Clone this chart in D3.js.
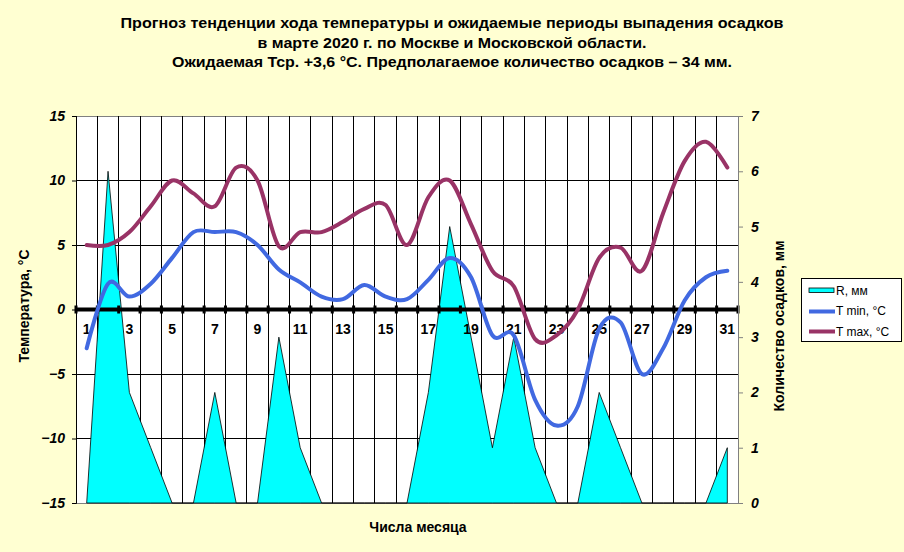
<!DOCTYPE html>
<html><head><meta charset="utf-8">
<script src="https://cdn.jsdelivr.net/npm/d3@7"></script>
<style>
html,body{margin:0;padding:0;background:#ffffd2;}
svg{display:block;}
text{font-family:"Liberation Sans",Arial,sans-serif;}
</style></head>
<body>
<svg id="c" width="904" height="552"></svg>
<script>
const days = ["1","2","3","4","5","6","7","8","9","10","11","12","13","14","15","16","17","18","19","20","21","22","23","24","25","26","27","28","29","30","31"];
const rain = [0,6,2,1,0,0,2,0,0,3,1,0,0,0,0,0,2,5,3,1,3,1,0,0,2,1,0,0,0,0,1];
const tmin = [-3,2,1,2,4,6,6,6,5,3.1,2.1,1,0.8,1.9,1,0.8,2.3,4,2.5,-2,-2,-7,-9,-7.5,-1.5,-1,-5,-3,0.7,2.5,3];
const tmax = [5,5,6,8,10,9,8,11,10,4.9,6,6,6.8,7.8,8.1,5,8.7,10,6.6,3,1.8,-2.3,-2,0,4,4.8,3,7.5,11.5,13,11];
const tempTicks = [15,10,5,0,-5,-10,-15];
const rainTicks = [0,1,2,3,4,5,6,7];
const xLabels = ["1","3","5","7","9","11","13","15","17","19","21","23","25","27","29","31"];
const titleLines = ["Прогноз тенденции хода температуры и ожидаемые периоды выпадения осадков",
  "в марте 2020 г. по Москве и Московской области.",
  "Ожидаемая Тср. +3,6 °С. Предполагаемое количество осадков – 34 мм."];
const legendItems = ["R, мм","T min, °C","T max, °C"];

const svg = d3.select("#c");
const L = 76, R = 738, T = 116, B = 503;
const x = d3.scaleBand().domain(days).range([L, R]).padding(0);
const bw = x.bandwidth();
const cx = d => x(d) + bw/2;
const yT = d3.scaleLinear().domain([-15,15]).range([B,T]);
const yR = d3.scaleLinear().domain([0,7]).range([B,T]);

svg.append("rect").attr("width",904).attr("height",552).attr("fill","#ffffd2");
svg.append("rect").attr("x",L).attr("y",T).attr("width",R-L).attr("height",B-T).attr("fill","#fff");

// title
const tw = [663,389,560];
const ty = [28,48,67];
titleLines.forEach((t,i)=>{
  svg.append("text").attr("x",452).attr("y",ty[i]).attr("text-anchor","middle")
    .style("font-family",'"Liberation Sans Narrow","Arial Narrow","Liberation Sans",Arial,sans-serif')
    .attr("font-weight","bold").attr("font-size",15.5)
    .attr("textLength",tw[i]).attr("lengthAdjust","spacingAndGlyphs").text(t);
});

// horizontal grid
svg.append("g").selectAll("line").data(tempTicks.filter(v=>v!==0)).join("line")
  .attr("x1",L).attr("x2",R).attr("y1",d=>yT(d)).attr("y2",d=>yT(d))
  .attr("stroke",d=>(d===15||d===-15)?"#808080":"#000").attr("stroke-width",1).attr("shape-rendering","crispEdges");
// vertical grid
const edges = days.map(d=>x(d)).concat([R]);
svg.append("g").selectAll("line").data(edges).join("line")
  .attr("x1",d=>d).attr("x2",d=>d).attr("y1",T).attr("y2",B)
  .attr("stroke","#000").attr("stroke-width",1).attr("shape-rendering","crispEdges");

// rain area
const area = d3.area().x((d,i)=>cx(days[i])).y0(yR(0)).y1(d=>yR(d));
svg.append("path").datum(rain).attr("d",area).attr("fill","#00ffff").attr("stroke","#000").attr("stroke-width",0.8);

// zero axis
svg.append("line").attr("x1",L).attr("x2",R).attr("y1",yT(0)).attr("y2",yT(0)).attr("stroke","#000").attr("stroke-width",4);
svg.append("g").selectAll("rect").data(edges).join("rect")
  .attr("x",d=>d-1.5).attr("y",yT(0)-4).attr("width",3).attr("height",8).attr("fill","#000");

// left axis
const ax = d3.axisLeft(yT).tickValues(tempTicks).tickSize(4).tickFormat(d3.format("d"));
const gL = svg.append("g").attr("transform",`translate(${L},0)`).call(ax);
gL.select(".domain").attr("stroke","#000");
gL.selectAll("text").attr("font-size",14).attr("font-weight","bold").attr("font-style","italic").attr("fill","#000").attr("dx",-4)
  .style("font-family","Arial,'Liberation Sans',sans-serif");
// right axis
const ar = d3.axisRight(yR).tickValues(rainTicks).tickSize(5).tickFormat(d3.format("d"));
const gR = svg.append("g").attr("transform",`translate(${R},0)`).call(ar);
gR.select(".domain").attr("stroke","#808080");
gR.selectAll(".tick line").attr("stroke","#808080");
gR.selectAll("text").attr("font-size",14).attr("font-weight","bold").attr("font-style","italic").attr("fill","#000").attr("dx",5)
  .style("font-family","Arial,'Liberation Sans',sans-serif");

// x labels
svg.append("g").selectAll("text").data(xLabels).join("text")
  .attr("x",d=>cx(d)).attr("y",334).attr("text-anchor","middle")
  .attr("font-size",14).attr("font-weight","bold").text(d=>d);

// lines
const line = d3.line().x((d,i)=>cx(days[i])).y(d=>yT(d)).curve(d3.curveCardinal.tension(0));
svg.append("path").datum(tmin).attr("d",line).attr("fill","none").attr("stroke","#4169e1").attr("stroke-width",4).attr("stroke-linecap","round");
svg.append("path").datum(tmax).attr("d",line).attr("fill","none").attr("stroke","#993366").attr("stroke-width",4).attr("stroke-linecap","round");

// axis titles
svg.append("text").attr("transform","translate(29,306) rotate(-90)").attr("text-anchor","middle")
  .attr("font-size",14).attr("font-weight","bold").text("Температура, °С");
svg.append("text").attr("transform","translate(784,326) rotate(-90)").attr("text-anchor","middle")
  .attr("font-size",14).attr("font-weight","bold").text("Количество осадков, мм");
svg.append("text").attr("x",418).attr("y",532).attr("text-anchor","middle")
  .attr("font-size",14).attr("font-weight","bold").text("Числа месяца");

// legend
const lg = svg.append("g");
lg.append("rect").attr("x",801.5).attr("y",278.5).attr("width",100).attr("height",63).attr("fill","#fff").attr("stroke","#000");
lg.append("rect").attr("x",809).attr("y",288).attr("width",25).attr("height",4.5).attr("fill","#00ffff").attr("stroke","#000").attr("stroke-width",0.8);
lg.append("line").attr("x1",809).attr("x2",835).attr("y1",311.5).attr("y2",311.5).attr("stroke","#4169e1").attr("stroke-width",4);
lg.append("line").attr("x1",809).attr("x2",835).attr("y1",331.5).attr("y2",331.5).attr("stroke","#993366").attr("stroke-width",4);
lg.selectAll("text.l").data(legendItems).join("text").attr("class","l")
  .attr("x",836).attr("y",(d,i)=>294.5+i*20.5).attr("font-size",12).text(d=>d);
</script>
</body></html>
